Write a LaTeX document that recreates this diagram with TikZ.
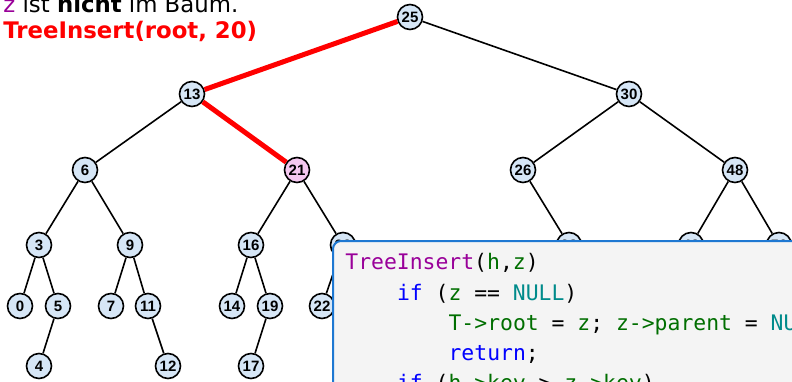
\documentclass[tikz,border=0pt]{standalone}
\usepackage{fontspec}
\setmainfont{DejaVu Sans}
\setmonofont{DejaVu Sans Mono}
\newfontfamily\keyfont{Liberation Sans}

\begin{document}
\begin{tikzpicture}[x=0.5pt, y=-0.5pt,
    keynode/.style={circle, draw=black, line width=0.8pt, fill=keyfill,
        minimum size=12.5pt, inner sep=0pt,
        font=\keyfont\fontsize{7.5}{8}\selectfont\bfseries},
    treeedge/.style={line width=0.8pt},
    pathedge/.style={draw=pathred, line width=2.5pt},
    codeline/.style={anchor=base west, inner sep=0pt,
        font=\fontsize{10.7}{13}\selectfont\ttfamily}]
    \definecolor{keyfill}{RGB}{214,230,246}
    \definecolor{keypink}{RGB}{245,200,240}
    \definecolor{pathred}{RGB}{255,0,0}
    \definecolor{zpurple}{RGB}{153,0,153}
    \definecolor{codeborder}{RGB}{30,120,210}
    \definecolor{codebg}{RGB}{244,244,244}
    \definecolor{codepurple}{RGB}{153,0,153}
    \definecolor{codegreen}{RGB}{0,110,0}
    \definecolor{codeblue}{RGB}{0,0,255}
    \definecolor{codeteal}{RGB}{0,139,139}

    \useasboundingbox (0,0) rectangle (792,381);
    \clip (0,0) rectangle (792,381);

    % Kopfzeilen.
    \node[anchor=base west, inner sep=0pt, font=\fontsize{11.4}{13}\selectfont]
        (status) at (3,12.5) {\textcolor{zpurple}{z} ist \textbf{nicht} im Baum.};
    \node[anchor=base west, inner sep=0pt, text=pathred,
        font=\fontsize{11.4}{13}\selectfont\bfseries]
        (call) at (3,38) {TreeInsert(root, 20)};

    \newcommand{\bstkey}[3]{\node[keynode] (k#1) at (#2,#3) {#1};}

    % Schlüssel des Suchbaums, Ebene für Ebene.
    \bstkey{25}{410}{17}
    \bstkey{13}{192}{94}
    \bstkey{30}{629}{94}
    \bstkey{6}{85}{170}
    \node[keynode, fill=keypink] (k21) at (297,170) {21};
    \bstkey{26}{523}{170}
    \bstkey{48}{735}{170}
    \bstkey{3}{39}{245}
    \bstkey{9}{130}{245}
    \bstkey{16}{251}{245}
    \bstkey{23}{343}{245}
    \bstkey{28}{569}{245}
    \bstkey{43}{691}{245}
    \bstkey{50}{779}{245}
    \bstkey{0}{20}{306}
    \bstkey{5}{58}{306}
    \bstkey{7}{111}{306}
    \bstkey{11}{148}{306}
    \bstkey{14}{232}{306}
    \bstkey{19}{270}{306}
    \bstkey{22}{322}{306}
    \bstkey{4}{39}{366}
    \bstkey{12}{168}{366}
    \bstkey{17}{251}{366}

    % Kanten; der Suchpfad in Rot.
    \foreach \a/\b in {25/30, 13/6, 30/26, 30/48, 6/3, 6/9, 21/16, 21/23,
        26/28, 48/43, 48/50, 3/0, 3/5, 9/7, 9/11, 16/14, 16/19, 23/22,
        5/4, 11/12, 19/17}
        \draw[treeedge] (k\a) -- (k\b);
    \draw[pathedge] (k25) -- (k13);
    \draw[pathedge] (k13) -- (k21);

    % Codekasten.
    \draw[draw=codeborder, fill=codebg, line width=1pt, rounded corners=4pt]
        (333,241) rectangle (830,420);
    \node[codeline] (c1) at (345,269)
        {\textcolor{codepurple}{TreeInsert}(\textcolor{codegreen}{h},\textcolor{codegreen}{z})};
    \node[codeline] (c2) at (396.6,300)
        {\textcolor{codeblue}{if} (\textcolor{codegreen}{z} == \textcolor{codeteal}{NULL})};
    \node[codeline] (c3) at (448.2,330)
        {\textcolor{codegreen}{T->root} = \textcolor{codegreen}{z}; \textcolor{codegreen}{z->parent} = \textcolor{codeteal}{NULL};};
    \node[codeline] (c4) at (448.2,360)
        {\textcolor{codeblue}{return};};
    \node[codeline] (c5) at (396.6,390)
        {\textcolor{codeblue}{if} (\textcolor{codegreen}{h->key} > \textcolor{codegreen}{z->key})};
\end{tikzpicture}
\end{document}
